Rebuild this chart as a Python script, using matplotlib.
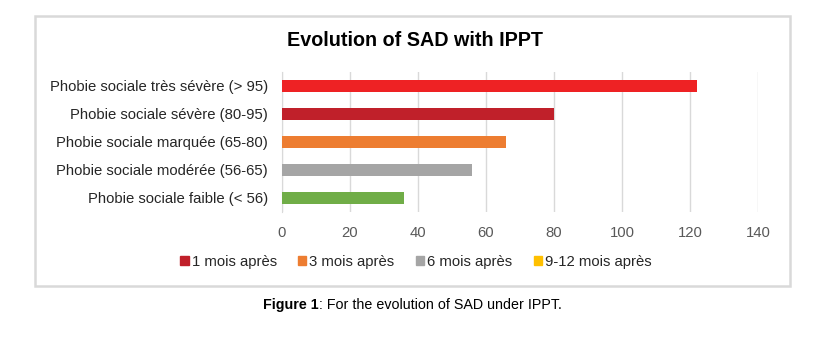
import matplotlib
matplotlib.use('Agg')
import matplotlib.pyplot as plt
from matplotlib.patches import Rectangle, Patch

plt.rcParams['font.family'] = ['Liberation Sans', 'DejaVu Sans']

categories = ['Phobie sociale très sévère (> 95)', 'Phobie sociale sévère (80-95)',
              'Phobie sociale marquée (65-80)', 'Phobie sociale modérée (56-65)',
              'Phobie sociale faible (< 56)']
values = [122, 80, 66, 56, 36]
bar_colors = ['#ee2224', '#c0202a', '#ed7d31', '#a5a5a5', '#70ad47']
legend_labels = ['1 mois après', '3 mois après', '6 mois après', '9-12 mois après']
legend_colors = ['#c0202a', '#ed7d31', '#a5a5a5', '#ffc000']
xticks = [0, 20, 40, 60, 80, 100, 120, 140]

fig = plt.figure(figsize=(8.34, 3.44), dpi=100)
ax = fig.add_axes([282/834, 1-212/344, 476/834, 140/344])

ypos = list(range(len(categories)))
ax.barh(ypos, values, height=0.4, color=bar_colors, zorder=3)
ax.set_ylim(len(categories)-0.5, -0.5)
ax.set_xlim(0, 140)
ax.set_xticks(xticks)
ax.set_yticks(ypos)
ax.set_yticklabels(categories, fontsize=10.7, color='#262626')
ax.tick_params(axis='x', length=0, labelsize=10.7, labelcolor='#595959', pad=10)
ax.tick_params(axis='y', length=0, pad=10)
ax.grid(axis='x', color='#d9d9d9', lw=1, zorder=0)
for s in ['top', 'right', 'bottom']:
    ax.spines[s].set_visible(False)
ax.spines['left'].set_color('#d9d9d9')

# outer box
fig.patches.append(Rectangle((35/834, 1-286/344), 755/834, 270/344, transform=fig.transFigure,
                             fill=False, ec='#d9d9d9', lw=1.8))

fig.text(415/834, 1-41/344, 'Evolution of SAD with IPPT', ha='center', va='center',
         fontsize=14.2, fontweight='bold', color='#000000')

handles = [Patch(color=c) for c in legend_colors]
fig.legend(handles, legend_labels, loc='center', bbox_to_anchor=(416/834, 1-262/344), ncol=4,
           frameon=False, fontsize=10.7, handlelength=0.55, handleheight=0.55, handletextpad=0.2,
           columnspacing=1.45, labelcolor='#262626')

t1 = fig.text(263/834, 1-305/344, 'Figure 1', ha='left', va='center', fontsize=10.3, fontweight='bold')
fig.canvas.draw()
bb = t1.get_window_extent()
fig.text(bb.x1/834, 1-305/344, ': For the evolution of SAD under IPPT.', ha='left', va='center', fontsize=10.3)

fig.savefig('out.png', dpi=100)
